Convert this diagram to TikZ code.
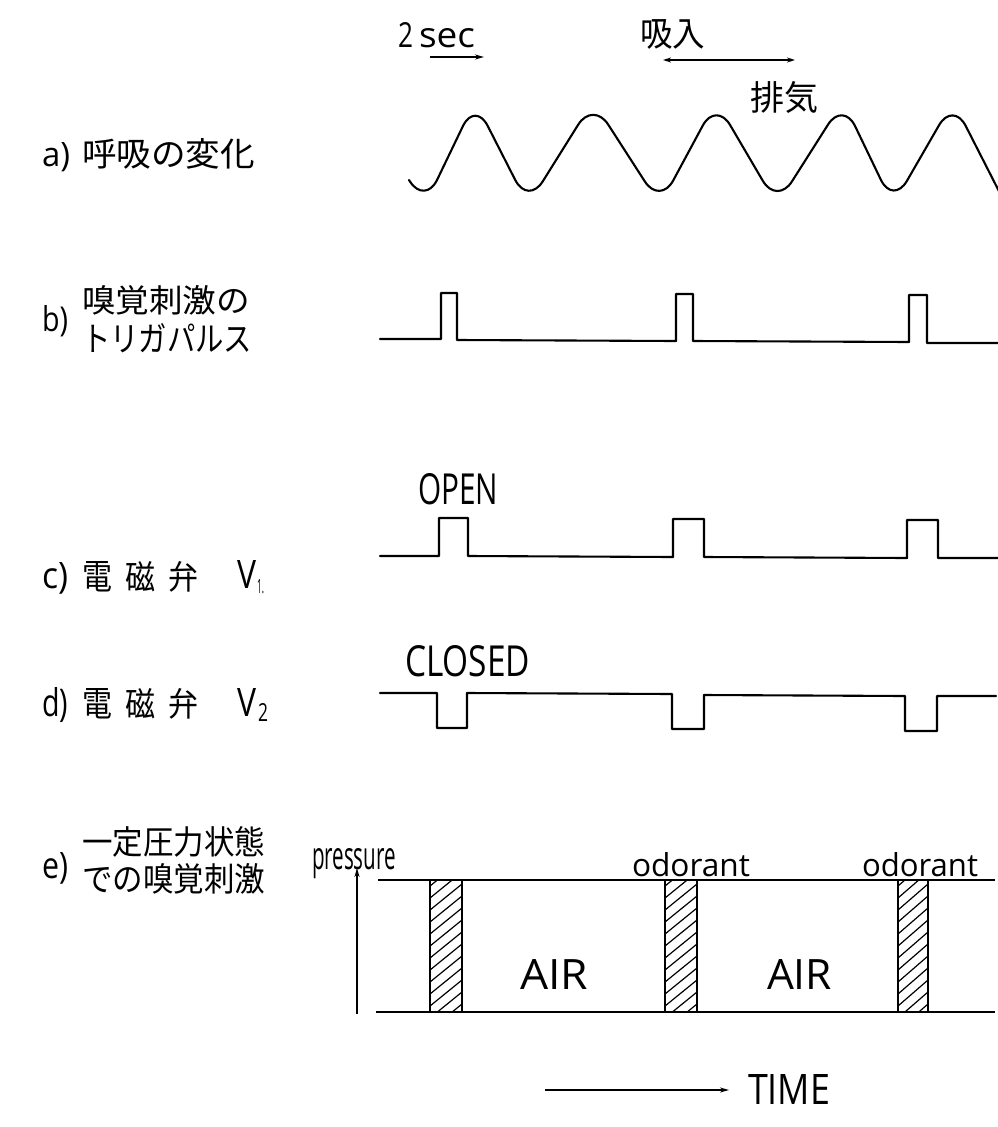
\documentclass[tikz,border=0pt]{standalone}
\usepackage{fontspec}
\usepackage{graphicx}
\usetikzlibrary{arrows.meta}
\newfontfamily\lat{Open Sans}
\newfontfamily\jp{Noto Sans CJK JP}
\newcommand{\tx}[3]{\resizebox{#1pt}{#2pt}{\lat #3}}
\newcommand{\jt}[3]{\resizebox{#1pt}{#2pt}{\jp #3}}
\begin{document}
\begin{tikzpicture}[x=1pt,y=-1pt,
  lbl/.style={inner sep=0pt, outer sep=0pt, anchor=base west},
  sig/.style={line width=2.1pt, line join=round, line cap=round},
  axis/.style={line width=1.6pt},
  hatch/.style={line width=1.2pt},
  tip/.style={-{Stealth[length=9pt,width=5pt]}}]
\useasboundingbox (0,0) rectangle (998,1127);

% ---------- top scale labels ----------
\node[lbl] (sec2) at (398,47) {\tx{15}{25}{2}};
\node[lbl] (sec) at (419,47) {\tx{56}{19}{sec}};
\coordinate (secA) at (430,57);
\coordinate (secB) at (484,57);
\draw[axis,tip] (secA) -- (secB);
\node[lbl] (inh) at (640,46) {\jt{65}{27}{吸入}};
\coordinate (brA) at (663,60);
\coordinate (brB) at (795,60);
\draw[axis,{Stealth[length=8pt,width=5pt]}-{Stealth[length=8pt,width=5pt]}] (brA) -- (brB);
\node[lbl] (exh) at (750,110) {\jt{68}{29}{排気}};

% ---------- a) ----------
\node[lbl] (la) at (42,166) {\tx{28}{24}{a)}};
\node[lbl] (ta) at (82,166) {\jt{173}{28}{呼吸の変化}};
\draw[sig, rounded corners=28pt] (409,180) -- (425,205) -- (475,101) -- (528,205)
  -- (593,101) -- (660,205) -- (716,101) -- (777,205) -- (843,101) -- (893,205)
  -- (953,101) -- (1006,205);

% ---------- b) ----------
\node[lbl] (lb) at (42,331) {\tx{26}{26}{b)}};
\node[lbl] (tb1) at (82,312) {\jt{168}{27}{嗅覚刺激の}};
\node[lbl] (tb2) at (82,351) {\jt{170}{28}{トリガパルス}};
\draw[sig] (380,339) -- (441,339) -- (441,293) -- (457,293) -- (457,340)
  -- (676,341) -- (676,294) -- (693,294) -- (693,341) -- (909,342) -- (909,295)
  -- (927,295) -- (927,343) -- (998,343);

% ---------- c) ----------
\node[lbl] (open) at (418,504) {\tx{80}{31}{OPEN}};
\node[lbl] (lc) at (42,588) {\tx{26}{26}{c)}};
\node[lbl] (tc1) at (82,589) {\jt{30}{28}{電}};
\node[lbl] (tc2) at (125,589) {\jt{30}{28}{磁}};
\node[lbl] (tc3) at (168,589) {\jt{30}{28}{弁}};
\node[lbl] (vc) at (237,588) {\tx{19}{28}{V}};
\node[lbl] (vc1) at (257,593) {\tx{7}{14}{1.}};
\draw[sig] (380,556) -- (439,556) -- (439,518) -- (468,518) -- (468,556)
  -- (673,557) -- (673,519) -- (704,519) -- (704,557) -- (907,558) -- (907,520)
  -- (938,520) -- (938,558) -- (998,558);

% ---------- d) ----------
\node[lbl] (closed) at (405,676) {\tx{125}{31}{CLOSED}};
\node[lbl] (ld) at (42,716) {\tx{26}{29}{d)}};
\node[lbl] (td1) at (82,716) {\jt{30}{28}{電}};
\node[lbl] (td2) at (125,716) {\jt{30}{28}{磁}};
\node[lbl] (td3) at (168,716) {\jt{30}{28}{弁}};
\node[lbl] (vd) at (237,716) {\tx{19}{28}{V}};
\node[lbl] (vd2) at (258,721) {\tx{10}{18}{2}};
\draw[sig] (380,693) -- (437,693) -- (437,728) -- (467,728) -- (467,693)
  -- (672,694) -- (672,729) -- (704,729) -- (704,695) -- (905,696) -- (905,731)
  -- (937,731) -- (937,696) -- (996,696);

% ---------- e) ----------
\node[lbl] (le) at (42,878) {\tx{26}{26}{e)}};
\node[lbl] (te1) at (82,854) {\jt{183}{28}{一定圧力状態}};
\node[lbl] (te2) at (82,891) {\jt{183}{28}{での嗅覚刺激}};
\node[lbl] (pres) at (312,869) {\tx{84}{21}{pressure}};
\node[lbl] (od1) at (632,876) {\tx{118}{24}{odorant}};
\node[lbl] (od2) at (862,876) {\tx{116}{24}{odorant}};
\node[lbl] (air1) at (520,989) {\tx{68}{30}{AIR}};
\node[lbl] (air2) at (767,989) {\tx{65}{30}{AIR}};
\node[lbl] (time) at (748,1104) {\tx{82}{30}{TIME}};

\coordinate (pB) at (357,1014);
\coordinate (pT) at (357,868);
\draw[axis,tip] (pB) -- (pT);
\coordinate (tL) at (545,1090);
\coordinate (tR) at (729,1090);
\draw[axis,tip] (tL) -- (tR);

\draw[axis] (378,880) -- (995,880);
\draw[axis] (376,1012) -- (995,1012);
\foreach \xa/\xb in {430/462, 665/697, 898/928}{
  \begin{scope}
    \clip (\xa,880) rectangle (\xb,1012);
    \foreach \k in {0,...,12}{
      \draw[hatch] (\xa,{886+\k*12}) -- (\xb,{886+\k*12-26});
    }
  \end{scope}
  \draw[axis] (\xa,880) -- (\xa,1012);
  \draw[axis] (\xb,880) -- (\xb,1012);
}
\end{tikzpicture}
\end{document}
